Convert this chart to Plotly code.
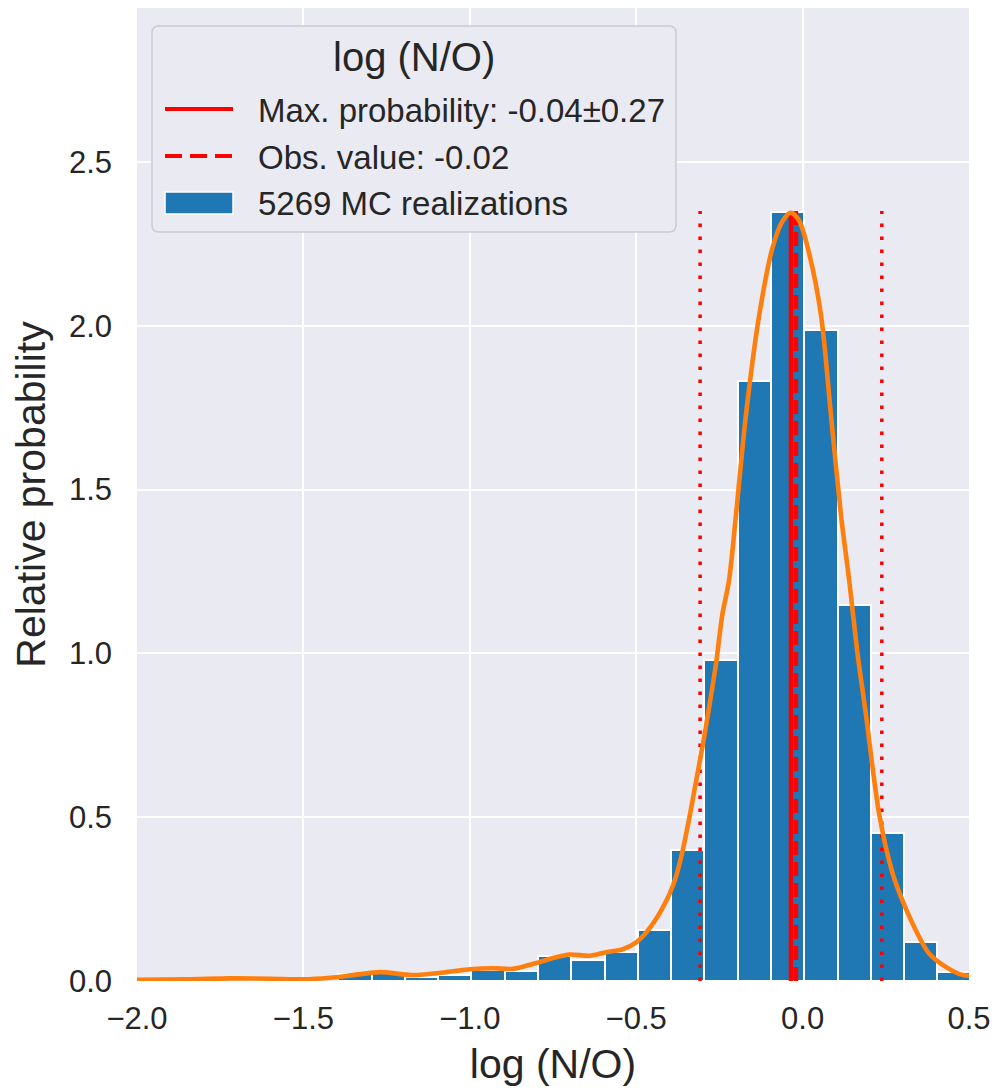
import plotly.graph_objects as go

# ---- data ----
bin_centers = [-1.345, -1.245, -1.145, -1.045, -0.945, -0.845, -0.745, -0.645, -0.545,
               -0.445, -0.345, -0.245, -0.145, -0.045, 0.055, 0.155, 0.255, 0.355, 0.455]
density = [0.020, 0.025, 0.012, 0.018, 0.033, 0.030, 0.075, 0.063, 0.088,
           0.157, 0.400, 0.980, 1.830, 2.347, 1.986, 1.148, 0.451, 0.119, 0.027]
bin_width = 0.1

kde_x = [-2.0, -1.85, -1.72, -1.6, -1.5, -1.42, -1.35, -1.27, -1.17, -1.07, -1.0, -0.93,
         -0.87, -0.80, -0.75, -0.70, -0.64, -0.59, -0.54, -0.50, -0.47, -0.44, -0.42, -0.40,
         -0.38, -0.36, -0.34, -0.32, -0.30, -0.284, -0.26, -0.241, -0.221, -0.20, -0.17,
         -0.13, -0.09, -0.06, -0.035, -0.01, 0.015, 0.055, 0.085, 0.115, 0.14, 0.165, 0.19,
         0.23, 0.27, 0.30, 0.345, 0.38, 0.43, 0.47, 0.5]
kde_y = [0.004, 0.005, 0.008, 0.007, 0.005, 0.010, 0.018, 0.027, 0.018, 0.027, 0.036, 0.039,
         0.037, 0.055, 0.070, 0.081, 0.077, 0.088, 0.097, 0.118, 0.148, 0.190, 0.225, 0.265,
         0.320, 0.400, 0.500, 0.610, 0.720, 0.816, 0.970, 1.120, 1.223, 1.425, 1.730,
         2.035, 2.240, 2.320, 2.345, 2.320, 2.240, 2.035, 1.730, 1.425, 1.223, 1.000, 0.816,
         0.510, 0.330, 0.246, 0.145, 0.084, 0.043, 0.022, 0.015]

max_prob = -0.035
max_prob_err = 0.273
obs_value = -0.02
line_top = 2.35

max_label = "Max. probability: -0.04\u00b10.27"
obs_label = "Obs. value: -0.02"
hist_label = "5269 MC realizations"
legend_title = "log (N/O)"
x_title = "log (N/O)"
y_title = "Relative probability"

x_ticks = [-2.0, -1.5, -1.0, -0.5, 0.0, 0.5]
y_ticks = [0.0, 0.5, 1.0, 1.5, 2.0, 2.5]

FONT = "Arial, Liberation Sans, sans-serif"
TXT = "#262626"
BLUE = "#1f77b4"
ORANGE = "#ff7f0e"

# figure geometry (page has an 8px body margin)
FIG_W, FIG_H = 991, 1080
ML, MR, MT, MB = 129, 30, 0, 107
PW = FIG_W - ML - MR
PH = FIG_H - MT - MB
OFF = 8


def px(x):  # window pixel -> paper x
    return (x - OFF - ML) / PW


def py(y):  # window pixel -> paper y
    return 1 - (y - OFF - MT) / PH


fig = go.Figure()

fig.add_trace(go.Bar(
    x=bin_centers, y=density, width=bin_width,
    marker=dict(color=BLUE, line=dict(color="white", width=2)),
    name=hist_label, showlegend=False,
))

for xv in [max_prob - max_prob_err, max_prob + max_prob_err]:
    fig.add_trace(go.Scatter(
        x=[xv, xv], y=[0, line_top], mode="lines",
        line=dict(color="red", width=3.5, dash="3.5px,9.5px"),
        showlegend=False, hoverinfo="skip",
    ))

fig.add_trace(go.Scatter(
    x=[max_prob, max_prob], y=[0, line_top], mode="lines",
    line=dict(color="red", width=4.5), name=max_label, showlegend=False,
))
fig.add_trace(go.Scatter(
    x=[obs_value, obs_value], y=[0, line_top], mode="lines",
    line=dict(color="red", width=4.5, dash="14px,7px"), name=obs_label, showlegend=False,
))

fig.add_trace(go.Scatter(
    x=kde_x, y=kde_y, mode="lines",
    line=dict(color=ORANGE, width=4.6, shape="spline", smoothing=0.8),
    showlegend=False, hoverinfo="skip",
))

# ---- legend box drawn in paper coordinates ----
bx0, bx1, by0, by1 = px(152), px(676), py(26), py(232)
rx, ry = 7 / PW, 7 / PH
box_path = (f"M{bx0 + rx},{by0} L{bx1 - rx},{by0} Q{bx1},{by0} {bx1},{by0 - ry} "
            f"L{bx1},{by1 + ry} Q{bx1},{by1} {bx1 - rx},{by1} L{bx0 + rx},{by1} "
            f"Q{bx0},{by1} {bx0},{by1 + ry} L{bx0},{by0 - ry} Q{bx0},{by0} {bx0 + rx},{by0} Z")
shapes = [dict(type="path", path=box_path, xref="paper", yref="paper",
               fillcolor="#EAEAF2", line=dict(color="#CCCCCC", width=1.5), layer="above")]

entry_y = [109, 156, 203]
shapes.append(dict(type="line", xref="paper", yref="paper", x0=px(165), x1=px(233),
                   y0=py(entry_y[0]), y1=py(entry_y[0]), line=dict(color="red", width=4)))
shapes.append(dict(type="line", xref="paper", yref="paper", x0=px(165), x1=px(233),
                   y0=py(entry_y[1]), y1=py(entry_y[1]),
                   line=dict(color="red", width=4, dash="17px,8px")))
shapes.append(dict(type="rect", xref="paper", yref="paper", x0=px(165), x1=px(233),
                   y0=py(entry_y[2] - 11), y1=py(entry_y[2] + 11),
                   fillcolor=BLUE, line=dict(color="white", width=1.5)))

annotations = [dict(text=legend_title, xref="paper", yref="paper", x=px(414), y=py(57),
                    xanchor="center", yanchor="middle", showarrow=False,
                    font=dict(size=40, family=FONT, color=TXT))]
for lab, yy in zip([max_label, obs_label, hist_label], entry_y):
    annotations.append(dict(text=lab, xref="paper", yref="paper", x=px(256), y=py(yy + 1),
                            xanchor="left", yanchor="middle", showarrow=False,
                            font=dict(size=33, family=FONT, color=TXT)))

fig.update_layout(
    width=FIG_W, height=FIG_H,
    margin=dict(l=ML, r=MR, t=MT, b=MB),
    paper_bgcolor="white", plot_bgcolor="#EAEAF2",
    font=dict(family=FONT, color=TXT),
    bargap=0, showlegend=False,
    shapes=shapes, annotations=annotations,
    xaxis=dict(
        range=[-2.0, 0.5], tickvals=x_ticks, tickformat=".1f",
        showgrid=True, gridcolor="white", gridwidth=2, zeroline=False, showline=False,
        ticks="", tickfont=dict(size=31, family=FONT, color=TXT), ticklabelstandoff=16,
        title=dict(text=x_title, font=dict(size=41, family=FONT, color=TXT), standoff=14),
    ),
    yaxis=dict(
        range=[0, 2.97], tickvals=y_ticks, tickformat=".1f",
        showgrid=True, gridcolor="white", gridwidth=2, zeroline=False, showline=False,
        ticks="", tickfont=dict(size=31, family=FONT, color=TXT), ticklabelstandoff=24,
        title=dict(text=y_title, font=dict(size=41, family=FONT, color=TXT), standoff=14),
    ),
)

fig.write_html("out.html")
